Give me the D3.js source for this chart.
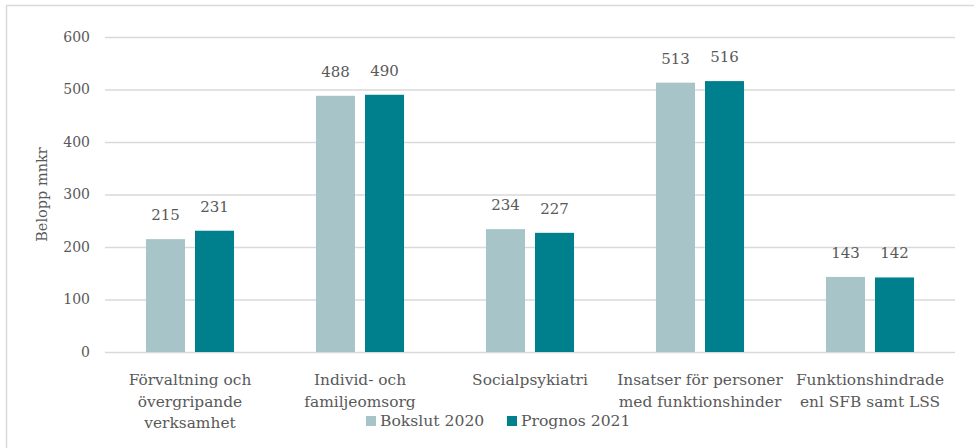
<!DOCTYPE html>
<html>
<head>
<meta charset="utf-8">
<script src="https://cdn.jsdelivr.net/npm/d3@7"></script>
<style>
  body { margin: 0; background: #fff; }
  text { font-family: "DejaVu Serif", serif; fill: #595959; }
</style>
</head>
<body>
<script>
const w = 974;
const h = 448;

const categories = [
  ["Förvaltning och", "övergripande", "verksamhet"],
  ["Individ- och", "familjeomsorg"],
  ["Socialpsykiatri"],
  ["Insatser för personer", "med funktionshinder"],
  ["Funktionshindrade", "enl SFB samt LSS"]
];
const seriesNames = ["Bokslut 2020", "Prognos 2021"];
const bokslut2020 = [215, 488, 234, 513, 143];
const prognos2021 = [231, 490, 227, 516, 142];
const yTicks = [0, 100, 200, 300, 400, 500, 600];
const colors = ["#A7C4C9", "#00808D"];

const plotLeft = 105, plotRight = 955, plotTop = 37, plotBottom = 352;

const svg = d3.select("body")
              .append("svg")
              .attr("width", w)
              .attr("height", h);

// chart border
svg.append("rect")
   .attr("x", 6.5).attr("y", 5.5)
   .attr("width", 980).attr("height", 460)
   .attr("fill", "none")
   .attr("stroke", "#d9d9d9")
   .attr("stroke-width", 1.5);

const idx = categories.map((d, i) => i);

const x0 = d3.scaleBand()
             .domain(idx)
             .range([plotLeft, plotRight])
             .paddingInner(0.482)
             .paddingOuter(0.241);

const x1 = d3.scaleBand()
             .domain([0, 1])
             .range([0, x0.bandwidth()])
             .paddingInner(0.204);

const yScale = d3.scaleLinear()
                 .domain([0, 600])
                 .range([plotBottom, plotTop]);

// gridlines + tick labels via axis
const yAxis = d3.axisLeft(yScale)
                .tickValues(yTicks)
                .tickSize(-(plotRight - plotLeft))
                .tickPadding(15);

const gy = svg.append("g")
              .attr("transform", "translate(" + plotLeft + ",0)")
              .call(yAxis);
gy.select(".domain").remove();
gy.selectAll("line").attr("stroke", "#d9d9d9").attr("stroke-width", 1.5);
gy.selectAll("text").attr("font-size", 14).attr("fill", "#595959")
  .attr("font-family", "DejaVu Serif");

svg.append("text")
   .attr("transform", "translate(42," + ((plotTop + plotBottom) / 2) + ") rotate(-90)")
   .attr("text-anchor", "middle")
   .attr("dy", "0.35em")
   .attr("font-size", 14.5)
   .text("Belopp mnkr");

const series = [bokslut2020, prognos2021];

series.forEach(function(vals, s) {
  const g = svg.append("g");
  g.selectAll("rect")
   .data(vals)
   .enter()
   .append("rect")
   .attr("x", (d, i) => x0(i) + x1(s))
   .attr("width", x1.bandwidth())
   .attr("y", (d) => yScale(d))
   .attr("height", (d) => plotBottom - yScale(d))
   .attr("fill", colors[s]);

  g.selectAll("text")
   .data(vals)
   .enter()
   .append("text")
   .attr("x", (d, i) => x0(i) + x1(s) + x1.bandwidth() / 2)
   .attr("y", (d) => yScale(d) - 19)
   .attr("text-anchor", "middle")
   .attr("font-size", 15)
   .attr("fill", "#404040")
   .text((d) => d);
});

// category labels
const catG = svg.selectAll(".cat")
   .data(categories)
   .enter()
   .append("text")
   .attr("class", "cat")
   .attr("text-anchor", "middle")
   .attr("font-size", 15.4)
   .attr("x", (d, i) => x0(i) + x0.bandwidth() / 2)
   .attr("y", 385);

catG.selectAll("tspan")
    .data((d) => d)
    .enter()
    .append("tspan")
    .attr("x", function() { return d3.select(this.parentNode).attr("x"); })
    .attr("dy", (d, i) => i === 0 ? 0 : 21.5)
    .text((d) => d);

// legend
const legendX = [366, 507];
const lg = svg.selectAll(".leg")
   .data(seriesNames)
   .enter()
   .append("g")
   .attr("class", "leg")
   .attr("transform", (d, i) => "translate(" + legendX[i] + ",0)");
lg.append("rect")
  .attr("x", 0).attr("y", 416)
  .attr("width", 10).attr("height", 10)
  .attr("fill", (d, i) => colors[i]);
lg.append("text")
  .attr("x", 14).attr("y", 426)
  .attr("font-size", 15.6)
  .text((d) => d);
</script>
</body>
</html>
